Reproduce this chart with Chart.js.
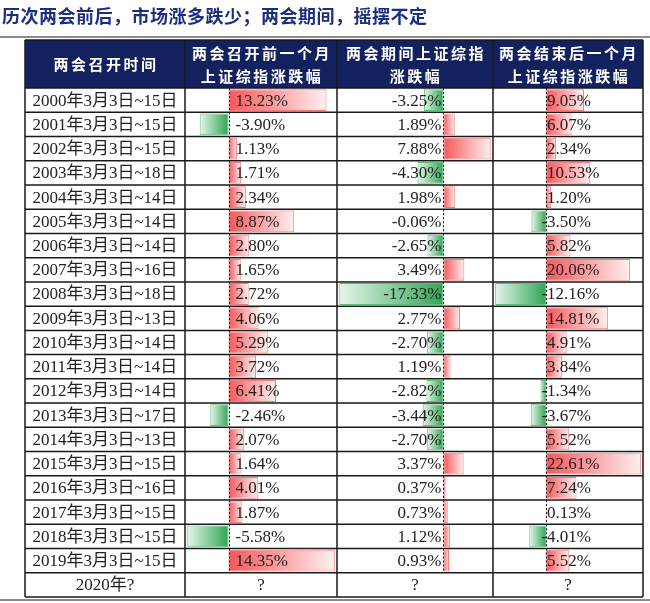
<!DOCTYPE html>
<html>
<head>
<meta charset="utf-8">
<script src="https://cdn.jsdelivr.net/npm/chart.js@4/dist/chart.umd.min.js"></script>
<style>
  html, body { margin: 0; padding: 0; background: #fff; }
  #wrap { width: 650px; height: 603px; }
</style>
</head>
<body>
<div id="wrap"><canvas id="table" width="650" height="603"></canvas></div>
<script>
const title = '历次两会前后，市场涨多跌少；两会期间，摇摆不定';
const headers = [
    ['两会召开时间'],
    ['两会召开前一个月', '上证综指涨跌幅'],
    ['两会期间上证综指', '涨跌幅'],
    ['两会结束后一个月', '上证综指涨跌幅']
];
const periods = [
    '2000年3月3日~15日', '2001年3月3日~15日', '2002年3月3日~15日', '2003年3月3日~18日',
    '2004年3月3日~14日', '2005年3月3日~14日', '2006年3月3日~14日', '2007年3月3日~16日',
    '2008年3月3日~18日', '2009年3月3日~13日', '2010年3月3日~14日', '2011年3月3日~14日',
    '2012年3月3日~14日', '2013年3月3日~17日', '2014年3月3日~13日', '2015年3月3日~15日',
    '2016年3月3日~16日', '2017年3月3日~15日', '2018年3月3日~15日', '2019年3月3日~15日',
    '2020年?'
];
// % change of the Shanghai Composite
const before = [13.23, -3.90, 1.13, 1.71, 2.34, 8.87, 2.80, 1.65, 2.72, 4.06, 5.29, 3.72, 6.41, -2.46, 2.07, 1.64, 4.01, 1.87, -5.58, 14.35, null];
const during = [-3.25, 1.89, 7.88, -4.30, 1.98, -0.06, -2.65, 3.49, -17.33, 2.77, -2.70, 1.19, -2.82, -3.44, -2.70, 3.37, 0.37, 0.73, 1.12, 0.93, null];
const after = [9.05, 6.07, 2.34, 10.53, 1.20, -3.50, 5.82, 20.06, -12.16, 14.81, 4.91, 3.84, -1.34, -3.67, 5.52, 22.61, 7.24, 0.13, -4.01, 5.52, null];

const series = [before, during, after];
const axisIds = ['x1', 'x2', 'x3'];
const colWeights = [152, 156, 150];
const tableLeft = 25;
const headerTop = 40;

const serif = '"Liberation Serif", "Noto Sans CJK SC", serif';
const cjkBold = 'bold 15px "Noto Sans CJK SC", sans-serif';

// scale bounds like excel data bars: min..max of the column, little gap
const bounds = (arr) => {
    const v = arr.filter(x => x !== null);
    const lo = Math.min(...v), hi = Math.max(...v);
    const m = (hi - lo) * 0.015;
    return { min: lo - m, max: hi + m };
};

const barFill = (ctx) => {
    const chart = ctx.chart;
    const v = ctx.raw;
    if (v === null || v === undefined || !chart.chartArea) return 'rgba(0,0,0,0)';
    const xs = chart.scales[axisIds[ctx.datasetIndex]];
    const x0 = xs.getPixelForValue(0);
    const x1 = xs.getPixelForValue(v);
    if (Math.abs(x1 - x0) < 0.5) return v >= 0 ? '#f65a5d' : '#3cae5c';
    const g = chart.ctx.createLinearGradient(x0, 0, x1, 0);
    if (v >= 0) {
        g.addColorStop(0, '#f6575a');
        g.addColorStop(1, '#fff0f0');
    } else {
        g.addColorStop(0, '#2fa553');
        g.addColorStop(1, '#e6f6ea');
    }
    return g;
};

const barBorder = (ctx) => (ctx.raw !== null && ctx.raw < 0) ? '#5fbd78' : '#f47c7e';

const fmt = (v) => v.toFixed(2) + '%';

const tablePlugin = {
    id: 'tablePlugin',
    beforeDraw(chart) {
        const c = chart.ctx;
        const { top, right } = chart.chartArea;
        const cols = columnEdges(chart);
        c.save();
        c.fillStyle = '#fff';
        c.fillRect(0, 0, chart.width, chart.height);
        // title and rule
        c.fillStyle = '#1c2e80';
        c.font = 'bold 18px "Noto Sans CJK SC", sans-serif';
        c.letterSpacing = '0.5px';
        c.textBaseline = 'middle';
        c.textAlign = 'left';
        c.fillText(title, 2, 16);
        c.fillStyle = '#8c8c8c';
        c.fillRect(0, 36, chart.width, 2);
        // header band
        c.fillStyle = '#13215f';
        c.fillRect(tableLeft, headerTop, right - tableLeft, top - headerTop);
        c.fillStyle = '#fff';
        c.font = cjkBold;
        c.textAlign = 'center';
        c.letterSpacing = '2.5px';
        headers.forEach((lines, k) => {
            const cx = (cols[k] + cols[k + 1]) / 2 + 1;
            if (lines.length === 1) {
                c.fillText(lines[0], cx, (headerTop + top) / 2);
            } else {
                c.fillText(lines[0], cx, headerTop + 13);
                c.fillText(lines[1], cx, headerTop + 36);
            }
        });
        c.restore();
    },
    afterDatasetsDraw(chart) {
        const c = chart.ctx;
        const { top, bottom, right } = chart.chartArea;
        const ys = chart.scales.y;
        const cols = columnEdges(chart);
        const rowH = (bottom - top) / periods.length;
        c.save();
        c.textBaseline = 'middle';
        c.fillStyle = '#222';
        c.font = '17px ' + serif;
        periods.forEach((p, i) => {
            const y = ys.getPixelForValue(i);
            c.textAlign = 'center';
            c.fillStyle = '#222';
            c.fillText(p, (cols[0] + cols[1]) / 2, y + 1);
            series.forEach((arr, k) => {
                const v = arr[i];
                if (v === null) {
                    c.textAlign = 'center';
                    c.fillText('?', (cols[k + 1] + cols[k + 2]) / 2, y + 1);
                    return;
                }
                const x0 = chart.scales[axisIds[k]].getPixelForValue(0);
                const s = fmt(v);
                if (k === 0) {
                    c.textAlign = 'left';
                    c.fillText(s, x0 + 7, y + 1);
                } else if (k === 1) {
                    c.textAlign = 'right';
                    c.fillText(s, x0 - 2, y + 1);
                } else {
                    c.textAlign = 'left';
                    const shift = v < 0 ? c.measureText('-').width : 0;
                    c.fillText(s, x0 + 1 - shift, y + 1);
                }
                // dashed zero line of the data bar
                c.save();
                c.strokeStyle = '#111';
                c.lineWidth = 1;
                c.setLineDash([2, 2]);
                c.beginPath();
                c.moveTo(Math.round(x0) + 0.5, y - rowH / 2);
                c.lineTo(Math.round(x0) + 0.5, y + rowH / 2);
                c.stroke();
                c.restore();
            });
        });
        // grid
        c.strokeStyle = '#1a1a1a';
        c.lineWidth = 1.5;
        c.beginPath();
        for (let i = 0; i <= periods.length; i++) {
            const y = top + i * rowH;
            c.moveTo(tableLeft, y);
            c.lineTo(right, y);
        }
        c.moveTo(tableLeft, headerTop);
        c.lineTo(right, headerTop);
        cols.forEach(x => {
            c.moveTo(x, headerTop);
            c.lineTo(x, bottom);
        });
        c.stroke();
        c.fillStyle = '#8c8c8c';
        c.fillRect(0, 599, chart.width, 2);
        c.restore();
    }
};

function columnEdges(chart) {
    const s = chart.scales;
    return [tableLeft, s.x1.left, s.x2.left, s.x3.left, s.x3.right];
}

const xAxis = (arr, w) => Object.assign({
    type: 'linear',
    position: 'bottom',
    stack: 'cols',
    stackWeight: w,
    grid: { display: false },
    border: { display: false },
    ticks: { display: false },
    afterFit: (s) => { s.height = 0; }
}, bounds(arr));

new Chart(document.getElementById('table'), {
    type: 'bar',
    data: {
        labels: periods,
        datasets: series.map((arr, k) => ({
            data: arr,
            xAxisID: axisIds[k],
            grouped: false,
            backgroundColor: barFill,
            borderColor: barBorder,
            borderWidth: 1,
            borderSkipped: false,
            barPercentage: 0.9,
            categoryPercentage: 1
        }))
    },
    options: {
        indexAxis: 'y',
        responsive: false,
        animation: false,
        layout: { padding: { left: 185, right: 7, top: 88, bottom: 6 } },
        scales: {
            y: { display: false },
            x1: xAxis(before, colWeights[0]),
            x2: xAxis(during, colWeights[1]),
            x3: xAxis(after, colWeights[2])
        },
        plugins: {
            legend: { display: false },
            tooltip: { enabled: false }
        }
    },
    plugins: [tablePlugin]
});
</script>
</body>
</html>
